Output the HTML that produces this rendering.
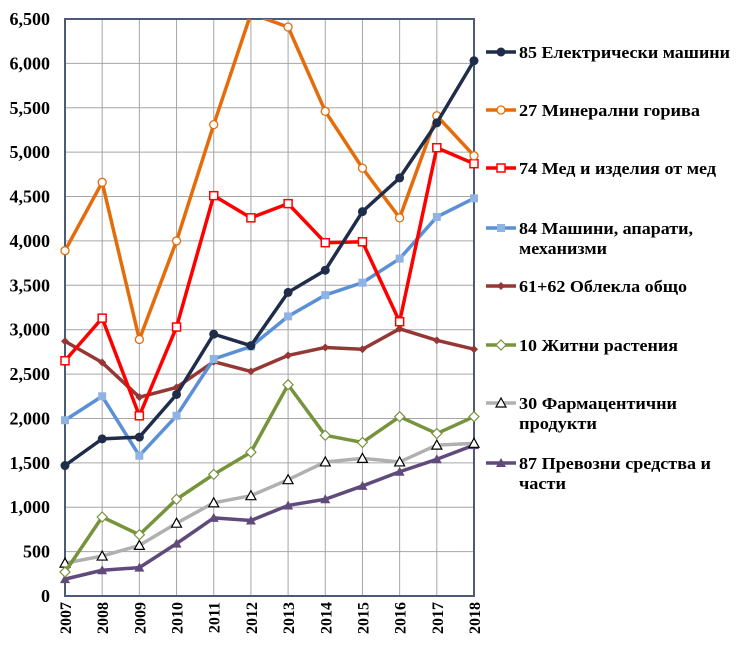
<!DOCTYPE html>
<html><head><meta charset="utf-8"><style>
body{margin:0;background:#fff;}
svg text{font-family:"Liberation Serif",serif;font-weight:bold;}
</style></head><body>
<svg id="c" width="740" height="667" xmlns="http://www.w3.org/2000/svg"></svg>
<script>
const s=document.getElementById('c');let h='';
const X0=65,X1=474,Y0=596,Y1=19;
const x=i=>X0+(X1-X0)*i/11, y=v=>Y0-(Y0-Y1)*v/6500;
for(let v=0;v<=6500;v+=500){h+=`<line x1="${X0}" x2="${X1}" y1="${y(v)}" y2="${y(v)}" stroke="#a6a6a6" stroke-width="1"/>`;
h+=`<text x="50" y="${y(v)+6}" font-size="18" text-anchor="end">${v.toLocaleString('en-US')}</text>`;}
for(let i=0;i<12;i++){h+=`<line x1="${x(i)}" x2="${x(i)}" y1="${Y1}" y2="${Y0}" stroke="#a6a6a6" stroke-width="1"/>`;
h+=`<text transform="translate(${x(i)+6},${Y0+6}) rotate(-90)" font-size="16" text-anchor="end">${2007+i}</text>`;}
h+=`<rect x="${X0}" y="${Y1}" width="${X1-X0}" height="${Y0-Y1}" fill="none" stroke="#4a5a78" stroke-width="2"/>`;
const S=[
['#1f2d4a','dot',[1470,1770,1790,2270,2950,2820,3420,3670,4330,4710,5330,6030]],
['#e46c0a','ocirc',[3890,4660,2890,4000,5310,6560,6410,5460,4820,4260,5410,4960]],
['#ff0000','osq',[2650,3130,2030,3030,4510,4260,4420,3980,3990,3090,5050,4870]],
['#5b8fd6','sq',[1980,2250,1580,2030,2670,2810,3150,3390,3530,3800,4270,4480]],
['#953735','dia',[2870,2630,2240,2350,2640,2530,2710,2800,2780,3010,2880,2780]],
['#77933c','odia',[270,890,690,1090,1370,1620,2380,1810,1730,2020,1830,2020]],
['#b0b0b0','otri',[370,450,570,820,1050,1130,1310,1510,1550,1510,1700,1720]],
['#604a7b','tri',[190,290,320,590,880,850,1020,1090,1240,1400,1540,1700]]];
function mk(t,c,px,py){switch(t){
case'dot':return`<circle cx="${px}" cy="${py}" r="4.5" fill="${c}"/>`;
case'ocirc':return`<circle cx="${px}" cy="${py}" r="4" fill="#fff" stroke="${c}" stroke-width="1.3"/>`;
case'osq':return`<rect x="${px-4}" y="${py-4}" width="8" height="8" fill="#fff" stroke="${c}" stroke-width="1.5"/>`;
case'sq':return`<rect x="${px-4}" y="${py-4}" width="8" height="8" fill="#8fb4e3"/>`;
case'dia':return`<polygon points="${px},${py-4} ${px+4},${py} ${px},${py+4} ${px-4},${py}" fill="${c}"/>`;
case'odia':return`<polygon points="${px},${py-5} ${px+5},${py} ${px},${py+5} ${px-5},${py}" fill="#fff" stroke="${c}" stroke-width="1.2"/>`;
case'otri':return`<polygon points="${px},${py-5} ${px+5},${py+4} ${px-5},${py+4}" fill="#fff" stroke="#000" stroke-width="1.2"/>`;
case'tri':return`<polygon points="${px},${py-5} ${px+5},${py+4} ${px-5},${py+4}" fill="${c}"/>`;}}
h+=`<clipPath id="cp"><rect x="0" y="${Y1}" width="740" height="${Y0-Y1+10}"/></clipPath><g clip-path="url(#cp)">`;
for(let k=S.length-1;k>=0;k--){const [c,t,d]=S[k];
h+=`<polyline fill="none" stroke="${c}" stroke-width="3.5" stroke-linejoin="round" points="${d.map((v,i)=>x(i)+','+y(v)).join(' ')}"/>`;
d.forEach((v,i)=>h+=mk(t,c,x(i),y(v)));}
h+='</g>';
const L=[[['85 Електрически машини',211]],[['27 Минерални горива',181]],[['74 Мед и изделия от мед',197]],[['84 Машини, апарати,',174],['механизми',88]],[['61+62 Облекла общо',168]],[['10 Житни растения',159]],[['30 Фармацентични',158],['продукти',78]],[['87 Превозни средства и',192],['части',47]]];
const LY=[52,110,168,228,286,345,403,463];
L.forEach((l,k)=>{const yy=LY[k];const [c,t]=S[k];
h+=`<line x1="486" x2="516" y1="${yy}" y2="${yy}" stroke="${c}" stroke-width="3.5"/>`+mk(t,c,501,yy);
l.forEach(([tx,w],j)=>h+=`<text x="519" y="${yy+6+j*20}" font-size="17" textLength="${w}" lengthAdjust="spacingAndGlyphs">${tx}</text>`);});
s.innerHTML=h;
</script>
</body></html>
